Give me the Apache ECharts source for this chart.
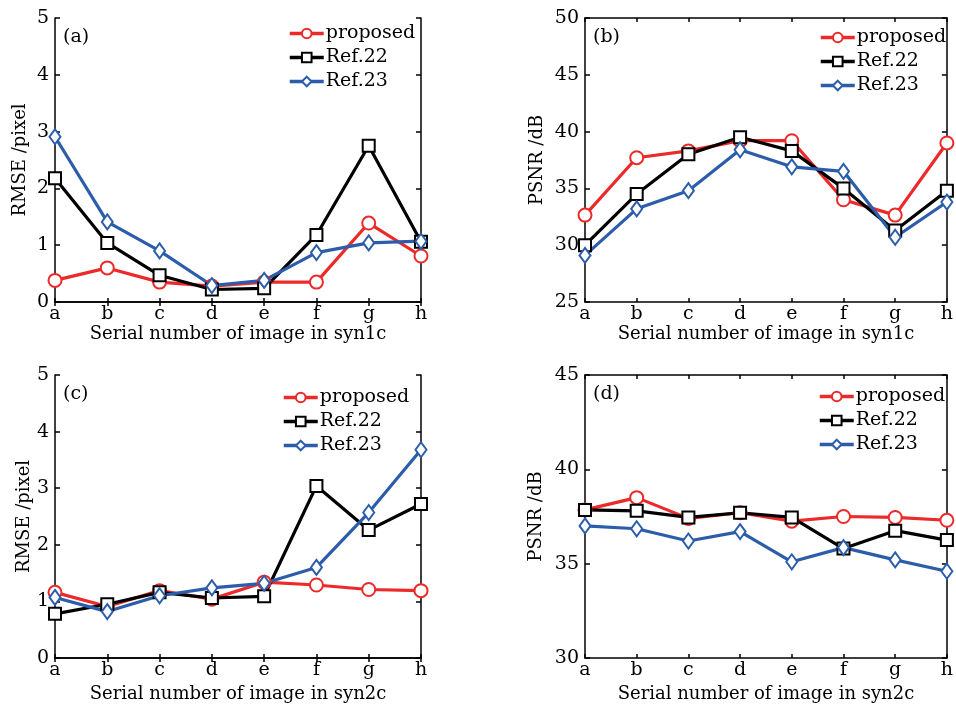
<!DOCTYPE html>
<html>
<head>
<meta charset="utf-8">
<script src="https://cdn.jsdelivr.net/npm/echarts@6/dist/echarts.min.js"></script>
<style>
  html, body { margin: 0; padding: 0; background: #fff; }
  #chart { width: 956px; height: 704px; }
</style>
</head>
<body>
<div id="chart"></div>
<script>
/* image labels on the x axis */
let categories = ["a", "b", "c", "d", "e", "f", "g", "h"];
let seriesNames = ["proposed", "Ref.22", "Ref.23"];

/* (a) RMSE, syn1c */
let rmse1Proposed = [0.38, 0.60, 0.35, 0.28, 0.35, 0.35, 1.39, 0.81];
let rmse1Ref22 = [2.18, 1.04, 0.47, 0.22, 0.24, 1.18, 2.75, 1.06];
let rmse1Ref23 = [2.91, 1.41, 0.90, 0.29, 0.38, 0.87, 1.04, 1.07];

/* (b) PSNR, syn1c */
let psnr1Proposed = [32.65, 37.7, 38.3, 39.2, 39.2, 34.0, 32.65, 39.0];
let psnr1Ref22 = [30.0, 34.5, 38.0, 39.5, 38.3, 35.0, 31.3, 34.8];
let psnr1Ref23 = [29.1, 33.2, 34.8, 38.4, 36.9, 36.5, 30.7, 33.8];

/* (c) RMSE, syn2c */
let rmse2Proposed = [1.16, 0.91, 1.19, 1.04, 1.34, 1.29, 1.21, 1.19];
let rmse2Ref22 = [0.78, 0.95, 1.16, 1.06, 1.09, 3.04, 2.26, 2.72];
let rmse2Ref23 = [1.07, 0.82, 1.10, 1.24, 1.32, 1.60, 2.57, 3.68];

/* (d) PSNR, syn2c */
let psnr2Proposed = [37.85, 38.5, 37.4, 37.7, 37.25, 37.5, 37.45, 37.3];
let psnr2Ref22 = [37.85, 37.8, 37.45, 37.7, 37.45, 35.8, 36.75, 36.25];
let psnr2Ref23 = [37.0, 36.85, 36.2, 36.7, 35.1, 35.85, 35.2, 34.6];

let FONT = "DejaVu Serif";
let RED = "#ec2a2a";
let BLACK = "#000";
let BLUE = "#2b5dab";

let panels = [
  { tag: "(a)", yName: "RMSE /pixel", xName: "Serial number of image in syn1c",
    min: 0, max: 5, step: 1, data: [rmse1Proposed, rmse1Ref22, rmse1Ref23],
    grid: { left: 55, top: 18, width: 366, height: 284 }, yGap: 26, xGap: 22,
    legend: { left: 288, top: 24 } },
  { tag: "(b)", yName: "PSNR /dB", xName: "Serial number of image in syn1c",
    min: 25, max: 50, step: 5, data: [psnr1Proposed, psnr1Ref22, psnr1Ref23],
    grid: { left: 585, top: 18, width: 365, height: 284 }, yGap: 39, xGap: 22,
    legend: { left: 819, top: 28 } },
  { tag: "(c)", yName: "RMSE /pixel", xName: "Serial number of image in syn2c",
    min: 0, max: 5, step: 1, data: [rmse2Proposed, rmse2Ref22, rmse2Ref23],
    grid: { left: 55, top: 375, width: 366, height: 283 }, yGap: 20, xGap: 27,
    legend: { left: 282, top: 388 } },
  { tag: "(d)", yName: "PSNR /dB", xName: "Serial number of image in syn2c",
    min: 30, max: 45, step: 5, data: [psnr2Proposed, psnr2Ref22, psnr2Ref23],
    grid: { left: 585, top: 375, width: 365, height: 283 }, yGap: 40, xGap: 27,
    legend: { left: 818, top: 387 } },
];

let styles = [
  { color: RED, symbol: "emptyCircle", symbolSize: 13 },
  { color: BLACK, symbol: "emptyRect", symbolSize: 12 },
  { color: BLUE, symbol: "emptyDiamond", symbolSize: [11, 15] },
];

let axisLine = { show: true, lineStyle: { color: BLACK, width: 1.5 } };

let option = {
  backgroundColor: "#fff",
  animation: false,
  textStyle: { fontFamily: FONT, color: BLACK },
  grid: [], xAxis: [], yAxis: [], series: [], legend: [], title: [],
};

panels.forEach(function (p, i) {
  option.grid.push(Object.assign({ containLabel: false }, p.grid));

  option.title.push({
    text: p.tag,
    left: p.grid.left + 3,
    top: p.grid.top + 5,
    textStyle: { fontFamily: FONT, fontSize: 19, fontWeight: "normal", color: BLACK },
  });

  option.legend.push({
    data: seriesNames,
    orient: "vertical",
    left: p.legend.left,
    top: p.legend.top,
    itemWidth: 34,
    itemHeight: 12,
    itemGap: 5,
    padding: 0,
    lineStyle: { width: 3.5 },
    itemStyle: { borderWidth: 2.5 },
    textStyle: { fontFamily: FONT, fontSize: 19, color: BLACK, padding: [0, 0, 0, -3] },
  });

  /* bottom axis with labels */
  option.xAxis.push({
    type: "category", gridIndex: i, data: categories, boundaryGap: false,
    name: p.xName, nameLocation: "middle", nameGap: p.xGap,
    nameTextStyle: { fontFamily: FONT, fontSize: 18, color: BLACK },
    axisLine: axisLine,
    axisTick: { show: true, inside: true, length: 4, lineStyle: { color: BLACK, width: 1.5 } },
    axisLabel: { fontFamily: FONT, fontSize: 19, color: BLACK, margin: 3 },
    splitLine: { show: false },
  });
  /* mirrored top axis */
  option.xAxis.push({
    type: "category", gridIndex: i, data: categories, boundaryGap: false, position: "top",
    axisLine: axisLine,
    axisTick: { show: true, inside: true, length: 4, lineStyle: { color: BLACK, width: 1.5 } },
    axisLabel: { show: false },
    splitLine: { show: false },
  });

  option.yAxis.push({
    type: "value", gridIndex: i, min: p.min, max: p.max, interval: p.step,
    name: p.yName, nameLocation: "middle", nameGap: p.yGap, nameRotate: 90,
    nameTextStyle: { fontFamily: FONT, fontSize: 18, color: BLACK },
    axisLine: axisLine,
    axisTick: { show: true, inside: true, length: 5, lineStyle: { color: BLACK, width: 1.5 } },
    axisLabel: { fontFamily: FONT, fontSize: 19, color: BLACK, margin: 6 },
    splitLine: { show: false },
  });
  option.yAxis.push({
    type: "value", gridIndex: i, min: p.min, max: p.max, interval: p.step, position: "right",
    axisLine: axisLine,
    axisTick: { show: true, inside: true, length: 5, lineStyle: { color: BLACK, width: 1.5 } },
    axisLabel: { show: false },
    splitLine: { show: false },
  });

  p.data.forEach(function (values, k) {
    let s = styles[k];
    option.series.push({
      name: seriesNames[k],
      type: "line",
      xAxisIndex: i * 2,
      yAxisIndex: i * 2,
      data: values,
      symbol: s.symbol,
      symbolSize: s.symbolSize,
      showAllSymbol: true,
      lineStyle: { color: s.color, width: 3.2 },
      itemStyle: { color: s.color, borderColor: s.color, borderWidth: 2.5 },
      emphasis: { disabled: true },
    });
  });
});

let chart = echarts.init(document.getElementById("chart"), null, { renderer: "canvas" });
chart.setOption(option);
</script>
</body>
</html>
